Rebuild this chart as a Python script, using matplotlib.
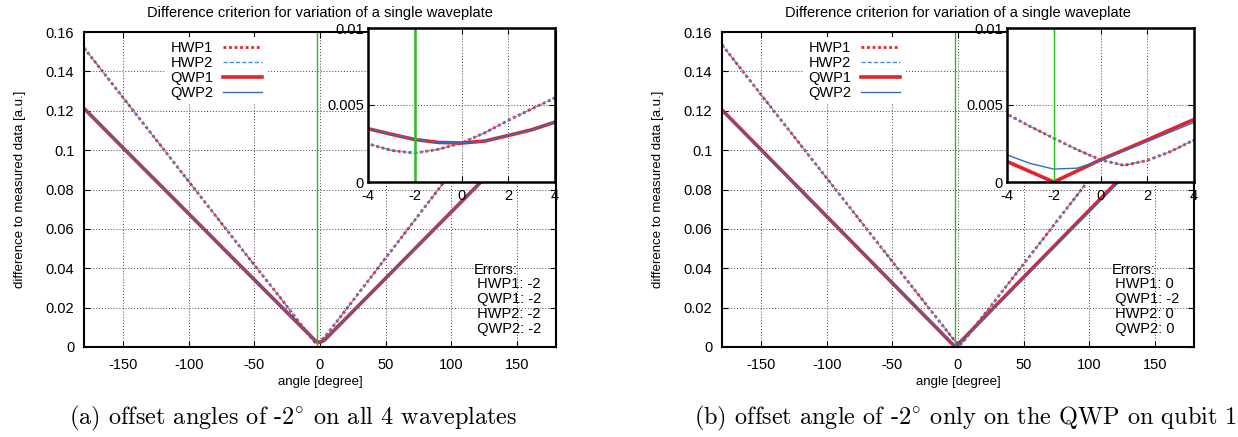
import matplotlib
matplotlib.use("Agg")
import matplotlib.pyplot as plt
from matplotlib.ticker import FuncFormatter

plt.rcParams['font.family'] = ['Liberation Sans', 'DejaVu Sans']
plt.rcParams['axes.unicode_minus'] = False
plt.rcParams['mathtext.fontset'] = 'cm'

# angles in degree (coarse outside, 1 degree steps around the minimum)
angles = [-180, -150, -120, -90, -60, -30, -15, -8, -4, -3, -2, -1, 0,
          1, 2, 3, 4, 8, 15, 30, 60, 90, 120, 150, 180]

# (a) offset of -2 on all four waveplates
hwp1_a = [0.152, 0.1265, 0.101, 0.0755, 0.050, 0.0248, 0.0118, 0.0058, 0.00248, 0.00205,
          0.00188, 0.00212, 0.00253, 0.0032, 0.0040, 0.00475, 0.00546, 0.0088, 0.0148,
          0.0278, 0.0538, 0.0798, 0.1058, 0.1318, 0.1578]
hwp2_a = [0.152, 0.1265, 0.101, 0.0755, 0.050, 0.0248, 0.0118, 0.0058, 0.00248, 0.00205,
          0.00188, 0.00212, 0.00253, 0.0032, 0.0040, 0.00475, 0.00546, 0.0088, 0.0148,
          0.0278, 0.0538, 0.0798, 0.1058, 0.1318, 0.1578]
qwp1_a = [0.1212, 0.101, 0.081, 0.0609, 0.0408, 0.0208, 0.0108, 0.0062, 0.00346, 0.0031,
          0.00276, 0.00257, 0.00253, 0.00266, 0.00302, 0.00339, 0.00389, 0.0066, 0.0113,
          0.0214, 0.0416, 0.0618, 0.082, 0.1022, 0.1224]
qwp2_a = [0.1212, 0.101, 0.081, 0.0609, 0.0408, 0.0208, 0.0108, 0.0062, 0.00346, 0.0031,
          0.00276, 0.00257, 0.00253, 0.00266, 0.00302, 0.00339, 0.00389, 0.0066, 0.0113,
          0.0214, 0.0416, 0.0618, 0.082, 0.1022, 0.1224]

# (b) offset of -2 only on QWP1
hwp1_b = [0.1535, 0.128, 0.1026, 0.0772, 0.0518, 0.0264, 0.0137, 0.0078, 0.00441, 0.0036,
          0.00284, 0.0021, 0.00144, 0.00108, 0.0014, 0.00198, 0.00273, 0.0062, 0.0122,
          0.025, 0.0507, 0.0764, 0.1021, 0.1278, 0.1535]
hwp2_b = [0.1535, 0.128, 0.1026, 0.0772, 0.0518, 0.0264, 0.0137, 0.0078, 0.00441, 0.0036,
          0.00284, 0.0021, 0.00144, 0.00108, 0.0014, 0.00198, 0.00273, 0.0062, 0.0122,
          0.025, 0.0507, 0.0764, 0.1021, 0.1278, 0.1535]
qwp1_b = [0.1204, 0.1001, 0.0798, 0.0595, 0.0392, 0.0189, 0.0088, 0.004, 0.00133, 0.00067,
          0.0, 0.00072, 0.00144, 0.00208, 0.00273, 0.0034, 0.00406, 0.0068, 0.0116,
          0.0218, 0.0422, 0.0626, 0.083, 0.1034, 0.1238]
qwp2_b = [0.12, 0.0998, 0.0796, 0.0594, 0.0392, 0.019, 0.009, 0.0043, 0.00176, 0.0012,
          0.00084, 0.0009, 0.0014, 0.002, 0.00262, 0.00325, 0.00387, 0.0065, 0.0112,
          0.0213, 0.0415, 0.0617, 0.0819, 0.1021, 0.1223]

labels = ['HWP1', 'HWP2', 'QWP1', 'QWP2']
errors_a = ['-2', '-2', '-2', '-2']   # order HWP1, QWP1, HWP2, QWP2
errors_b = ['0', '-2', '0', '0']
true_offset = -2
captions = ['(a) offset angles of -2$^{\\circ}$ on all 4 waveplates',
            '(b) offset angle of -2$^{\\circ}$ only on the QWP on qubit 1']

red = '#e3222b'
blue = '#2f6fc2'
green = '#22c022'
styles = [dict(color=red, lw=2.0, ls=(0, (1, 1))),
          dict(color='#4a8fd6', lw=1.0, ls=(0, (3, 1.5))),
          dict(color=red, lw=2.6, ls='-'),
          dict(color=blue, lw=1.0, ls='-')]

fmt = FuncFormatter(lambda v, p: '%g' % v)


def style_axes(ax, lw):
    ax.grid(True, color='0.25', ls=(0, (1, 2)), lw=0.7)
    ax.tick_params(direction='in', top=True, right=True, length=4, labelsize=10.5)
    for s in ax.spines.values():
        s.set_linewidth(lw)


fig = plt.figure(figsize=(12.38, 4.37), dpi=100)
panels = [(84, 368, 293, [hwp1_a, hwp2_a, qwp1_a, qwp2_a], errors_a, 1.8),
          (722, 1007, 966, [hwp1_b, hwp2_b, qwp1_b, qwp2_b], errors_b, 1.0)]

for i, (left_px, inset_px, cap_px, series, errs, glw) in enumerate(panels):
    ax = fig.add_axes([left_px / 1238, 90 / 437, 472 / 1238, 315 / 437])
    for y, lab, st in zip(series, labels, styles):
        ax.plot(angles, y, label=lab, **st)
    ax.axvline(true_offset, color=green, lw=1.0)
    ax.set_xlim(-180, 180)
    ax.set_ylim(0, 0.16)
    ax.set_xticks([-150, -100, -50, 0, 50, 100, 150])
    ax.set_yticks([0, 0.02, 0.04, 0.06, 0.08, 0.1, 0.12, 0.14, 0.16])
    ax.yaxis.set_major_formatter(fmt)
    style_axes(ax, 1.5)
    ax.tick_params(axis='x', pad=8)
    ax.tick_params(axis='y', pad=7)
    ax.set_title('Difference criterion for variation of a single waveplate',
                 fontsize=10.5, pad=10.5)
    ax.set_xlabel('angle [degree]', fontsize=9.5, labelpad=3)
    ax.set_ylabel('difference to measured data [a.u.]', fontsize=9.5, labelpad=14)
    leg = ax.legend(loc='upper left', bbox_to_anchor=(0.157, 1.007), markerfirst=False,
                    handlelength=2.7, handletextpad=0.7, labelspacing=0.05,
                    borderpad=0.3, fontsize=10.5, fancybox=False, framealpha=1)
    leg.get_frame().set_edgecolor('none')
    err_text = 'Errors:\n HWP1: %s\n QWP1: %s\n HWP2: %s\n QWP2: %s' % tuple(errs)
    ax.text(0.825, 0.268, err_text, transform=ax.transAxes, fontsize=10.5,
            va='top', ha='left', linespacing=1.08)

    axin = fig.add_axes([inset_px / 1238, 255 / 437, 187 / 1238, 154 / 437])
    for y, st in zip(series, styles):
        axin.plot(angles, y, **st)
    axin.axvline(true_offset, color=green, lw=glw)
    axin.set_xlim(-4, 4)
    axin.set_ylim(0, 0.01)
    axin.set_xticks([-4, -2, 0, 2, 4])
    axin.set_yticks([0, 0.005, 0.01])
    axin.yaxis.set_major_formatter(fmt)
    style_axes(axin, 1.8)
    axin.tick_params(axis='x', pad=5)
    axin.tick_params(axis='y', pad=3)

    fig.text(cap_px / 1238, 1 - 418 / 437, captions[i], fontsize=17.5,
             family='cmr10', ha='center', va='center')

fig.savefig('out.png', dpi=100)
